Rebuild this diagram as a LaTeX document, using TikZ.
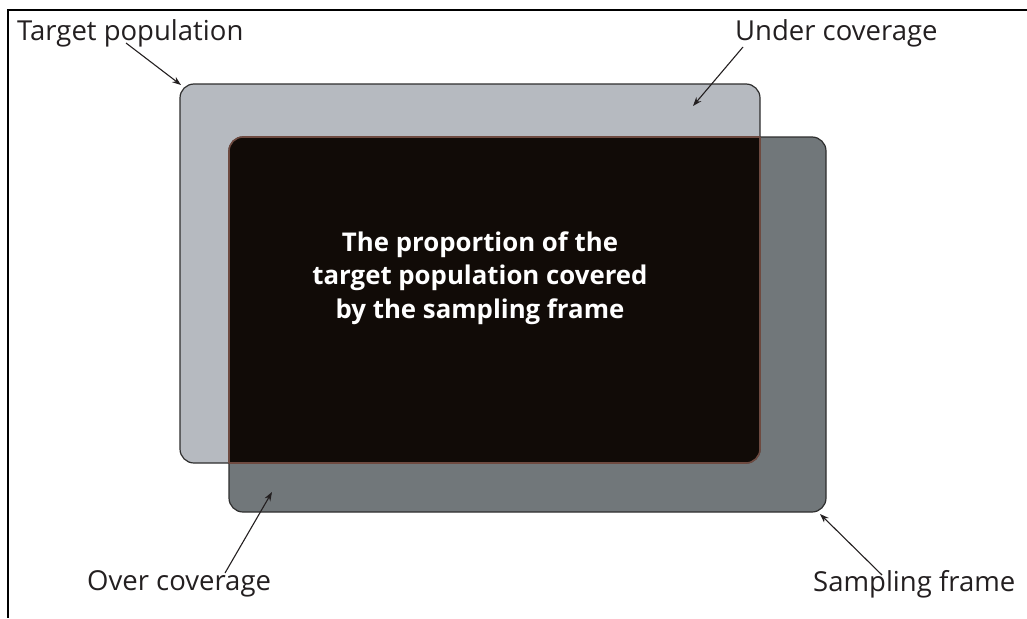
\documentclass[tikz,border=0pt]{standalone}
\usepackage{fontspec}
\setmainfont{Open Sans}
\usetikzlibrary{arrows.meta}
\definecolor{popfill}{HTML}{B6BAC0}
\definecolor{framefill}{HTML}{71777A}
\definecolor{overlapfill}{HTML}{110B07}
\definecolor{overlapedge}{HTML}{6E4A40}
\definecolor{edge}{HTML}{2E2E2E}
\definecolor{labelink}{HTML}{231F20}
\tikzset{
  lbl/.style={inner sep=0pt, text=labelink, font=\fontsize{27.5}{32}\selectfont},
  centre/.style={inner sep=0pt, text=white, align=center,
    font=\fontsize{25.8}{33.5}\selectfont\bfseries},
  pointer/.style={draw=labelink, line width=1.1pt,
    -{Stealth[length=9pt,width=6.5pt]}},
  outline/.style={draw=edge, line width=1.2pt},
}
\begin{document}
\begin{tikzpicture}[x=1pt,y=-1pt]
\useasboundingbox (0,0) rectangle (1027,618);

% outer frame: top and left rules only
\draw[line width=1.6pt, draw=black] (1027,10) -| (8,618);

% corners of the two regions
\coordinate (popNW) at (180,84);
\coordinate (popSE) at (760,463);
\coordinate (frmNW) at (229,137);
\coordinate (frmSE) at (826,512);

% sampling frame and target population
\fill[framefill, rounded corners=14pt] (frmNW) rectangle (frmSE);
\fill[popfill, rounded corners=14pt] (popNW) rectangle (popSE);
\draw[outline, rounded corners=14pt] (frmNW) rectangle (frmSE);
\draw[outline, rounded corners=14pt] (popNW) rectangle (popSE);

% overlap: population covered by the frame
\begin{scope}
  \clip[rounded corners=14pt] (popNW) rectangle (popSE);
  \fill[overlapfill, rounded corners=14pt] (frmNW) rectangle (frmSE);
  \draw[overlapedge, line width=1.6pt, rounded corners=14pt] (frmNW) rectangle (frmSE);
\end{scope}
\begin{scope}
  \clip[rounded corners=14pt] (frmNW) rectangle (frmSE);
  \draw[overlapedge, line width=1.6pt, rounded corners=14pt] (popNW) rectangle (popSE);
\end{scope}

\node[centre] (cov) at (480,278) {The proportion of the\\target population covered\\by the sampling frame};

% labels
\node[lbl, anchor=west] (tp) at (17,33) {Target population};
\node[lbl, anchor=west] (uc) at (735,33) {Under coverage};
\node[lbl, anchor=west] (oc) at (87,584) {Over coverage};
\node[lbl, anchor=west] (sf) at (813,584) {Sampling frame};

% pointer ends
\coordinate (tpA) at (126,43);
\coordinate (tpB) at (181,85);
\coordinate (ucA) at (743,47);
\coordinate (ucB) at (693,106);
\coordinate (ocA) at (225,573);
\coordinate (ocB) at (272,492);
\coordinate (sfA) at (882,575);
\coordinate (sfB) at (820,514);

\draw[pointer] (tpA) -- (tpB);
\draw[pointer] (ucA) -- (ucB);
\draw[pointer] (ocA) -- (ocB);
\draw[pointer] (sfA) -- (sfB);
\end{tikzpicture}
\end{document}
